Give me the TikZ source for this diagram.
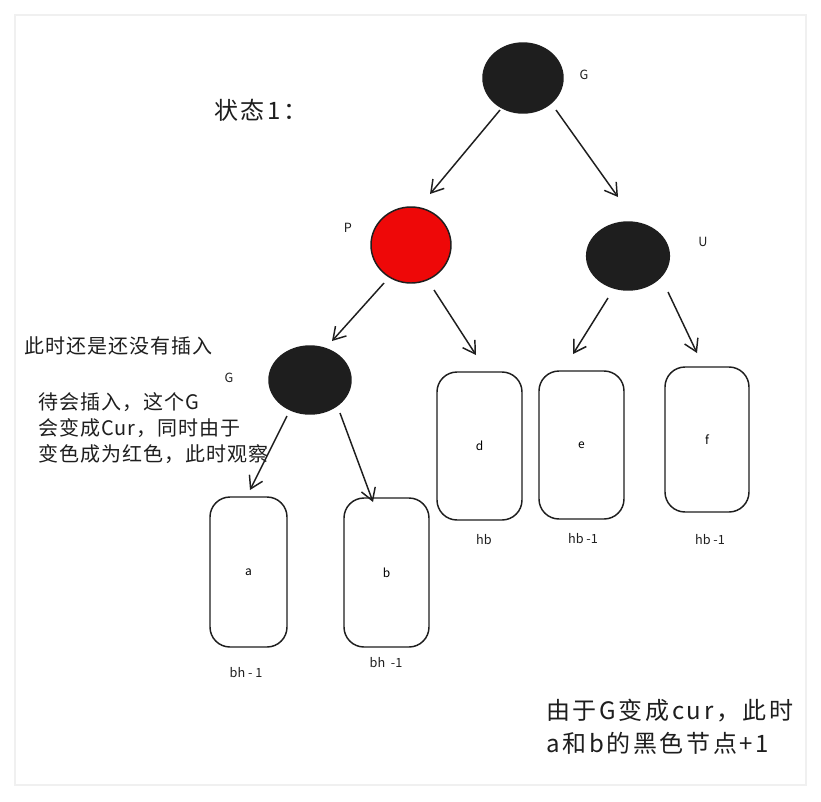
\documentclass[tikz,border=0pt]{standalone}
\usepackage{fontspec}
\setmainfont{Noto Sans CJK SC}
\usetikzlibrary{shapes.geometric,arrows.meta}
\definecolor{ink}{HTML}{1E1E1E}
\definecolor{redfill}{HTML}{EE0808}
\tikzset{
  blacknode/.style={ellipse,fill=ink,draw=ink,line width=1.1pt},
  rednode/.style={ellipse,fill=redfill,draw=ink,line width=1.1pt},
  leafbox/.style={draw=ink,line width=1.1pt,rounded corners=15pt,font=\fontsize{9}{11}\selectfont},
  arr/.style={draw=ink,line width=1.1pt,-{Straight Barb[length=9pt,width=11pt,line width=1.1pt]}},
  small/.style={font=\fontsize{9.5}{11}\selectfont,text=ink},
  note/.style={font=\fontsize{15}{19.5}\selectfont\addfontfeature{LetterSpace=5},text=ink,align=left,anchor=west,inner sep=0pt},
  big/.style={font=\fontsize{18}{25}\selectfont\addfontfeature{LetterSpace=11},text=ink,align=left,anchor=west,inner sep=0pt}
}
\begin{document}
\begin{tikzpicture}[x=0.75pt,y=-0.75pt]
\useasboundingbox (0,0) rectangle (821,801);
\draw[draw=black!6,line width=1.5pt,fill=white] (15,15) rectangle (806,785);
% tree nodes
\node[blacknode,minimum width=60pt,minimum height=52.5pt] (G) at (523,78) {};
\node[rednode,minimum width=60pt,minimum height=57pt] (P) at (411,245) {};
\node[blacknode,minimum width=62pt,minimum height=51pt] (U) at (628,256) {};
\node[blacknode,minimum width=61.5pt,minimum height=51pt] (G2) at (310,380) {};
% labels
\node[small] (lG) at (584,75) {G};
\node[small] (lP) at (348,228) {P};
\node[small] (lU) at (703,242) {U};
\node[small] (lG2) at (229,378) {G};
% boxes
\node[leafbox,minimum width=57.75pt,minimum height=112.5pt] (a) at (248.5,572) {a};
\node[leafbox,minimum width=63.75pt,minimum height=111.75pt] (b) at (386.5,572.5) {b};
\node[leafbox,minimum width=63.75pt,minimum height=111pt] (d) at (479.5,446) {d};
\node[leafbox,minimum width=63.75pt,minimum height=111pt] (e) at (581.5,445) {e};
\node[leafbox,minimum width=63pt,minimum height=108.75pt] (f) at (707,439.5) {f};
% box captions
\node[small] (ca) at (246,673) {bh - 1};
\node[small] (cb) at (386,663) {bh\ \ -1};
\node[small] (cd) at (484,540) {hb};
\node[small] (ce) at (583,539) {hb -1};
\node[small] (cf) at (710,540) {hb -1};
% connectors
\coordinate (gp1) at (500,110); \coordinate (gp2) at (430,194);
\coordinate (gu1) at (556,110); \coordinate (gu2) at (618,197);
\coordinate (pg1) at (384,283); \coordinate (pg2) at (332,341);
\coordinate (pd1) at (434,290); \coordinate (pd2) at (476,355);
\coordinate (ue1) at (608,298); \coordinate (ue2) at (573,354);
\coordinate (uf1) at (668,292); \coordinate (uf2) at (697,353);
\coordinate (ga1) at (287,416); \coordinate (ga2) at (250,490);
\coordinate (gb1) at (340,413); \coordinate (gb2) at (373,502);
\draw[arr] (gp1) -- (gp2);
\draw[arr] (gu1) -- (gu2);
\draw[arr] (pg1) -- (pg2);
\draw[arr] (pd1) -- (pd2);
\draw[arr] (ue1) -- (ue2);
\draw[arr] (uf1) -- (uf2);
\draw[arr] (ga1) -- (ga2);
\draw[arr] (gb1) -- (gb2);
% texts
\node[big] (state) at (214,110) {状态1：};
\node[note] (t1) at (24,346) {此时还是还没有插入};
\node[note] (t2) at (38,428) {待会插入，这个G\\会变成Cur，同时由于\\变色成为红色，此时观察};
\node[big] (t3) at (546,727) {由于G变成cur，此时\\a和b的黑色节点+1};
\end{tikzpicture}
\end{document}
